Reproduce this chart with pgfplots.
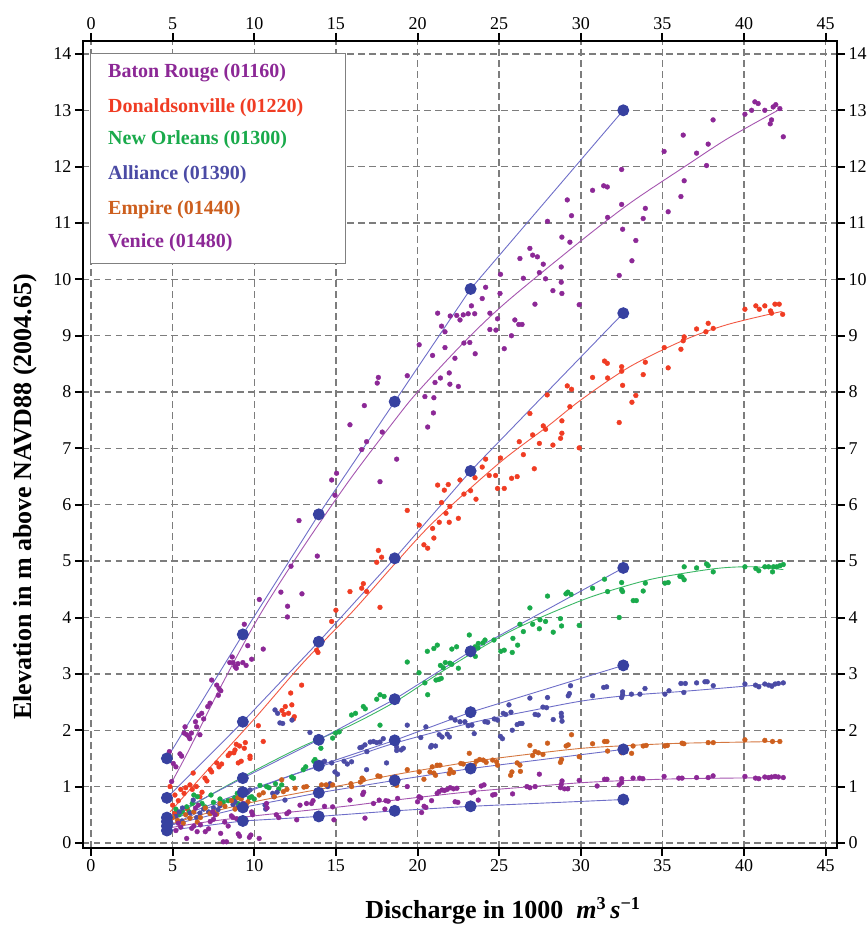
\documentclass[border=0pt]{standalone}
\usepackage{fontspec}
\setmainfont{Liberation Serif}
\usepackage{pgfplots}
\pgfplotsset{compat=1.18}

\definecolor{brc}{RGB}{140,40,150}
\definecolor{brfit}{RGB}{165,85,175}
\definecolor{doc}{RGB}{240,60,35}
\definecolor{nocol}{RGB}{25,170,75}
\definecolor{alc}{RGB}{75,75,165}
\definecolor{emc}{RGB}{205,95,30}
\definecolor{mdldot}{RGB}{55,65,160}
\definecolor{mdlline}{RGB}{110,110,200}
\definecolor{gridc}{RGB}{125,125,125}

\pgfplotsset{
  sc/.style={only marks, color=#1, mark=*, mark size=2.4pt, mark options={solid, draw=none, fill=#1}},
  fit/.style={smooth, no markers, line width=0.9pt, color=#1},
  mdl/.style={color=mdlline, line width=0.9pt, mark=*, mark size=5.5pt,
    mark options={draw=mdldot, fill=mdldot}},
  lims/.style={scale only axis, width=754pt, height=807pt,
    xmin=-0.49, xmax=45.69, ymin=-0.09, ymax=14.23,
    xtick={0,5,...,45}, ytick={0,1,...,14},
    tick align=outside, major tick length=8pt,
    /pgf/number format/assume math mode=true,
    tick label style={font=\fontsize{18}{21}\selectfont}},
}

\begin{document}
\begin{tikzpicture}
\begin{axis}[
  name=main, lims,
  tick pos=both,
  every tick/.style={black, line width=2pt},
  axis line style={line width=2.5pt},
  grid=major,
  major grid style={gridc, line width=1.4pt, dash pattern=on 6.5pt off 4.5pt},
  every axis x label/.style={at={(rel axis cs:0.557,0)}, anchor=north, yshift=-49pt,
    inner sep=0pt, font=\fontsize{26}{30}\selectfont\bfseries},
  every axis y label/.style={at={(rel axis cs:0,0.435)}, rotate=90, anchor=south,
    yshift=46pt, inner sep=0pt, font=\fontsize{26}{30}\selectfont\bfseries},
  xlabel={Discharge in 1000\ \ \textit{m}\textsuperscript{3}\,\textit{s}\textsuperscript{−1}},
  ylabel={Elevation in m above NAVD88 (2004.65)},
]

% Baton Rouge (01160)
\addplot[sc=brc] coordinates {
(4.8,1.62)(4.94,1.09)(5.04,1.41)(5.2,1.35)(5.55,1.54)(5.45,1.58)(5.86,1.92)(5.7,1.95)(5.76,2.06)(6.0,1.88)
(6.15,1.95)(6.05,1.85)(6.47,2.06)(6.4,2.15)(6.67,1.92)(6.78,2.3)(6.6,2.26)(6.9,2.2)(7.29,2.48)(7.15,2.42)
(7.39,2.89)(7.84,2.74)(7.7,2.8)(7.95,2.7)(7.8,2.62)(8.82,3.13)(8.5,3.2)(8.65,3.3)(8.7,3.2)(8.9,3.1)
(9.0,3.18)(9.3,3.2)(9.5,3.15)(9.84,3.26)(9.6,3.5)(9.39,3.88)(10.55,3.44)(10.31,4.32)(11.63,4.45)(12.04,4.2)
(12.03,4.01)(12.25,4.91)(12.92,4.42)(12.74,5.72)(13.86,5.09)(14.74,6.44)(15.04,6.56)(14.94,6.17)(15.86,7.42)(16.58,6.98)
(16.74,7.76)(16.88,7.12)(17.6,8.26)(17.53,8.16)(17.84,7.29)(17.7,6.41)(18.72,6.81)(19.37,8.29)(20.1,8.84)(20.45,7.92)
(20.62,7.38)(20.97,7.63)(21.0,7.9)(20.92,8.65)(21.07,8.17)(21.4,8.25)(21.68,8.79)(21.94,8.34)(21.98,8.14)(22.5,8.1)
(22.29,8.6)(22.84,8.87)(23.2,8.88)(23.53,8.68)(21.23,9.4)(21.47,9.17)(21.68,9.07)(22.0,9.35)(22.4,9.36)(22.6,9.28)
(22.8,9.37)(23.1,9.39)(23.3,9.53)(23.5,9.39)(23.96,9.66)(24.17,9.86)(24.43,9.4)(24.43,9.11)(24.8,9.1)(24.9,9.3)
(25.05,9.75)(25.08,10.09)(25.31,8.77)(25.75,9.0)(25.96,9.28)(26.2,9.2)(26.4,9.2)(26.27,10.37)(26.48,10.02)(26.88,10.55)
(27.05,10.43)(27.34,10.4)(27.46,10.12)(27.7,10.27)(27.84,10.01)(27.19,9.56)(27.96,11.03)(28.29,9.8)(28.8,10.22)(28.8,9.95)
(28.84,9.75)(28.84,10.75)(29.17,11.41)(29.33,10.66)(29.43,11.13)(29.9,9.55)(30.72,11.58)(31.4,11.66)(31.62,11.64)(31.64,11.1)
(32.35,10.07)(32.5,11.95)(32.5,11.33)(32.56,10.89)(33.13,10.33)(33.37,10.69)(33.82,11.08)(33.95,11.26)(35.1,12.27)(35.35,11.2)
(36.13,11.47)(36.27,12.56)(36.33,11.75)(37.09,12.24)(37.7,12.02)(37.8,12.4)(38.1,12.83)(40.05,12.93)(40.46,13.0)(40.66,13.15)
(40.86,13.12)(41.27,13.0)(41.6,12.76)(41.68,12.83)(41.78,13.06)(41.94,13.1)(42.19,13.03)(42.4,12.53)
};
% Donaldsonville (01220)
\addplot[sc=doc] coordinates {
(4.84,1.0)(5.0,0.67)(5.14,0.85)(5.14,0.53)(5.35,0.75)(5.5,0.95)(5.7,0.88)(5.9,0.6)(5.8,0.98)(6.06,1.03)
(6.2,0.95)(6.26,1.24)(6.45,1.0)(6.67,0.82)(6.8,0.9)(6.98,1.15)(7.1,1.1)(7.39,1.26)(7.3,1.3)(7.84,1.35)
(7.7,1.42)(8.0,1.4)(8.51,1.59)(8.4,1.55)(8.82,1.65)(8.75,1.6)(9.02,1.42)(9.2,1.45)(9.1,1.72)(8.9,1.75)
(9.39,1.68)(9.45,1.78)(9.74,1.54)(9.74,1.5)(10.25,2.08)(10.55,1.8)(11.82,2.28)(11.7,2.35)(12.45,2.24)(12.4,2.2)
(12.23,2.66)(12.9,2.8)(13.82,3.42)(13.9,3.38)(14.74,3.93)(15.0,4.13)(15.86,4.46)(16.58,4.52)(16.68,4.6)(16.88,4.46)
(17.7,4.18)(17.5,4.98)(17.6,5.19)(17.8,5.07)(19.37,5.9)(20.1,5.64)(20.39,5.29)(20.62,5.23)(20.92,5.58)(21.0,5.41)
(21.23,6.35)(21.33,5.69)(21.47,6.04)(21.64,6.26)(21.74,5.85)(21.88,6.36)(21.94,5.69)(21.98,5.97)(22.5,5.76)(22.6,6.44)
(22.84,6.19)(23.25,6.25)(23.52,6.48)(23.58,6.1)(23.96,6.67)(24.17,6.81)(24.39,6.52)(24.78,6.52)(24.9,6.29)(25.08,6.83)
(25.31,6.29)(25.76,6.47)(26.1,6.5)(26.23,7.12)(26.48,6.89)(26.88,7.62)(27.05,7.24)(27.15,6.64)(27.46,7.09)(27.7,7.4)
(27.84,7.34)(27.94,7.95)(28.29,7.06)(28.76,7.18)(28.84,7.27)(28.84,7.49)(29.17,8.11)(29.33,7.74)(29.43,8.05)(29.9,7.01)
(30.72,8.26)(31.62,8.51)(31.45,8.55)(31.64,8.25)(32.35,7.46)(32.5,8.45)(32.5,8.37)(32.56,8.12)(33.13,7.82)(33.37,7.94)
(33.82,8.31)(33.95,8.53)(35.11,8.79)(35.35,8.43)(36.13,8.76)(36.27,8.91)(36.33,8.98)(37.09,9.12)(37.66,9.07)(37.8,9.22)
(38.11,9.13)(40.05,9.47)(40.72,9.53)(40.93,9.47)(41.27,9.53)(41.62,9.44)(41.68,9.4)(41.89,9.56)(42.15,9.56)(42.36,9.38)
(11.9,2.42)(12.1,2.3)(12.3,2.45)
};
% New Orleans (01300)
\addplot[sc=nocol] coordinates {
(5.2,0.6)(5.4,0.5)(5.6,0.55)(5.86,0.64)(6.02,0.55)(6.2,0.7)(6.51,0.82)(6.3,0.85)(6.98,0.64)(6.8,0.7)
(7.35,0.85)(7.5,0.72)(7.9,0.78)(8.1,0.72)(8.4,0.75)(8.96,0.88)(8.8,0.8)(9.0,0.7)(9.84,0.82)(9.7,0.8)
(10.0,0.78)(10.35,1.02)(10.76,1.0)(10.9,0.98)(11.3,1.05)(11.68,1.03)(11.5,0.96)(12.29,1.17)(12.4,1.15)(13.0,1.3)
(13.15,1.35)(13.72,1.48)(13.65,1.45)(13.86,1.35)(14.08,1.68)(14.8,1.86)(14.98,1.95)(15.2,1.97)(15.96,2.27)(16.2,2.3)
(16.68,2.42)(16.8,2.38)(17.7,2.63)(17.5,2.55)(17.95,2.6)(17.7,2.09)(19.37,3.21)(20.09,3.02)(20.45,2.84)(20.62,2.63)
(21.13,2.89)(21.3,2.9)(21.45,2.92)(21.21,3.51)(21.0,3.45)(20.6,3.4)(21.57,3.11)(21.4,3.15)(21.98,3.19)(21.7,3.2)
(22.1,3.17)(22.5,3.1)(22.39,3.48)(22.1,3.44)(23.17,3.69)(23.52,3.48)(23.7,3.46)(23.54,3.31)(23.72,3.54)(24.13,3.6)
(24.0,3.55)(24.68,3.6)(25.31,3.42)(25.1,3.4)(25.8,3.38)(25.84,3.63)(26.13,3.51)(26.27,3.88)(26.48,3.75)(26.88,4.17)
(27.05,3.88)(27.46,3.8)(27.84,3.93)(27.5,3.96)(27.96,4.38)(28.31,3.74)(28.82,3.85)(28.75,3.98)(29.09,4.42)(29.2,4.45)
(29.4,4.41)(29.9,3.86)(30.72,4.52)(31.45,4.68)(31.64,4.46)(32.35,4.0)(32.5,4.49)(32.56,4.46)(32.5,4.62)(33.21,4.3)
(33.4,4.3)(33.82,4.47)(33.95,4.61)(35.15,4.61)(35.35,4.62)(36.07,4.73)(36.2,4.72)(36.33,4.67)(36.33,4.9)(37.09,4.88)
(37.8,4.92)(37.7,4.95)(38.11,4.81)(40.05,4.9)(40.72,4.87)(40.9,4.83)(41.27,4.9)(41.5,4.9)(41.74,4.81)(41.8,4.9)
(42.0,4.9)(42.2,4.92)(42.4,4.94)
};
% Alliance (01390)
\addplot[sc=alc] coordinates {
(4.9,0.35)(5.2,0.47)(5.57,0.39)(5.6,0.62)(5.4,0.55)(6.06,0.53)(6.26,0.76)(6.47,0.45)(6.67,0.53)(6.9,0.6)
(7.2,0.55)(7.5,0.62)(7.78,0.59)(7.9,0.66)(8.82,0.73)(8.7,0.68)(9.0,0.63)(9.43,0.59)(9.74,0.94)(9.6,0.9)
(10.66,0.67)(10.7,0.6)(11.13,0.88)(11.2,0.82)(11.88,0.76)(11.4,0.9)(11.27,2.36)(11.43,2.3)(11.57,2.13)(11.74,2.12)
(12.31,2.18)(13.41,1.96)(14.15,1.42)(14.3,1.45)(14.74,1.42)(14.94,1.26)(15.1,1.22)(14.64,1.05)(14.5,1.0)(15.96,1.44)
(15.7,1.4)(15.5,1.45)(16.47,1.69)(16.6,1.7)(16.78,1.74)(16.9,1.62)(16.88,1.3)(17.1,1.79)(17.3,1.8)(17.5,1.78)
(17.7,1.79)(17.9,1.85)(18.1,1.42)(18.72,1.64)(18.72,1.7)(19.13,1.68)(19.0,1.65)(19.37,2.09)(20.2,1.87)(20.51,2.06)
(20.86,1.73)(20.8,1.7)(21.1,1.72)(21.33,1.92)(21.5,1.88)(21.82,1.93)(21.95,1.88)(22.05,2.22)(22.3,2.18)(22.6,2.15)
(22.9,2.15)(23.1,2.08)(23.33,2.09)(23.47,1.94)(24.13,2.15)(24.3,2.14)(24.7,2.2)(24.9,2.18)(25.08,1.89)(25.2,1.85)
(25.25,2.3)(25.4,2.28)(25.72,2.32)(25.6,2.45)(25.8,2.0)(26.27,2.12)(26.1,2.1)(26.4,2.12)(26.88,2.57)(27.39,2.27)
(27.2,2.28)(27.68,2.41)(27.9,2.4)(27.96,2.58)(28.31,2.19)(28.82,2.24)(28.8,2.3)(28.85,2.16)(29.23,2.61)(29.37,2.79)
(29.3,2.65)(30.72,2.61)(31.58,2.77)(31.4,2.76)(32.56,2.63)(32.5,2.58)(32.56,2.68)(33.62,2.64)(33.1,2.64)(33.93,2.74)
(35.15,2.64)(35.4,2.7)(36.13,2.83)(36.31,2.67)(36.4,2.83)(37.09,2.84)(37.74,2.86)(37.6,2.86)(38.11,2.79)(40.05,2.82)
(40.7,2.8)(40.9,2.77)(41.27,2.82)(41.5,2.8)(41.7,2.78)(41.9,2.82)(42.1,2.83)(42.4,2.84)
};
% Empire (01440)
\addplot[sc=emc] coordinates {
(5.0,0.45)(5.3,0.4)(5.65,0.35)(5.8,0.5)(6.06,0.44)(6.3,0.55)(6.51,0.37)(6.7,0.45)(7.0,0.62)(7.29,0.52)
(7.5,0.55)(7.7,0.51)(7.9,0.7)(8.2,0.65)(8.82,0.6)(8.6,0.75)(9.0,0.8)(9.2,0.78)(9.61,0.73)(9.5,0.68)
(10.55,0.89)(10.3,0.85)(11.23,0.82)(11.68,1.12)(11.78,0.91)(12.0,0.95)(12.5,0.97)(13.04,0.99)(13.2,1.0)(14.12,1.03)
(14.4,1.03)(14.8,1.03)(15.92,1.05)(15.96,1.0)(16.68,1.12)(16.6,1.15)(16.5,1.08)(17.57,1.19)(17.7,1.18)(18.72,1.08)
(18.72,1.02)(19.37,1.3)(20.1,1.26)(20.39,1.13)(20.76,1.26)(21.0,1.24)(21.1,1.2)(20.9,1.35)(21.37,1.38)(21.2,1.38)
(21.94,1.23)(22.0,1.3)(22.2,1.25)(22.8,1.4)(22.65,1.41)(23.17,1.59)(23.47,1.38)(23.4,1.35)(24.02,1.47)(23.8,1.48)
(24.2,1.43)(23.6,1.45)(24.84,1.44)(24.6,1.47)(24.9,1.38)(25.78,1.26)(25.7,1.2)(26.27,1.38)(26.1,1.42)(26.3,1.27)
(26.88,1.73)(27.2,1.62)(27.05,1.55)(27.68,1.57)(27.4,1.6)(27.96,1.77)(28.82,1.48)(28.75,1.43)(29.23,1.74)(29.1,1.72)
(29.43,1.92)(29.9,1.53)(30.72,1.76)(31.45,1.8)(31.6,1.8)(31.64,1.63)(32.56,1.64)(32.5,1.6)(33.11,1.59)(33.2,1.72)
(33.82,1.72)(34.0,1.73)(35.15,1.72)(35.3,1.73)(36.31,1.76)(36.2,1.77)(37.8,1.78)(38.11,1.78)(40.05,1.83)(41.27,1.82)
(41.74,1.8)(42.19,1.8)
};
% Venice (01480)
\addplot[sc=brc] coordinates {
(5.2,0.22)(5.35,0.35)(5.5,0.28)(5.86,0.08)(6.17,0.26)(6.3,0.3)(6.57,0.67)(6.4,0.62)(6.5,0.2)(6.7,0.32)
(7.0,0.2)(7.2,0.25)(7.3,0.38)(7.5,0.42)(7.45,0.55)(7.6,0.5)(7.94,0.17)(8.1,0.02)(8.19,0.37)(8.3,0.02)
(8.4,0.3)(8.6,0.48)(8.7,0.45)(8.92,0.43)(9.02,0.16)(9.1,0.12)(9.33,0.7)(9.3,0.62)(9.79,0.14)(9.7,0.1)
(9.84,0.55)(9.9,0.5)(10.3,0.08)(10.78,0.62)(10.75,0.7)(11.35,0.5)(11.5,0.45)(12.12,0.55)(12.0,0.52)(12.6,0.41)
(12.8,0.67)(13.2,0.7)(13.51,0.7)(13.6,0.75)(14.3,0.65)(14.8,0.64)(14.88,0.41)(15.86,0.76)(16.64,0.86)(16.7,0.9)
(16.78,0.44)(17.65,0.76)(17.3,0.7)(18.0,0.6)(18.06,0.75)(18.2,0.74)(18.78,0.79)(19.37,1.0)(20.0,0.73)(20.09,0.82)
(20.2,0.8)(20.25,0.54)(20.51,0.63)(20.4,0.65)(20.86,0.75)(21.31,0.91)(21.2,0.88)(21.82,0.95)(21.65,0.93)(21.5,0.94)
(22.41,0.97)(22.2,0.96)(22.0,0.98)(22.47,0.72)(22.3,0.73)(23.45,0.91)(23.3,0.89)(23.72,0.76)(24.07,1.03)(23.9,1.01)
(24.74,0.86)(24.6,0.85)(25.82,0.87)(26.88,0.98)(26.7,1.0)(27.2,1.0)(27.46,1.22)(28.8,1.04)(28.75,0.98)(28.85,1.1)
(29.0,0.96)(29.2,0.96)(29.9,1.11)(31.0,1.01)(31.6,1.13)(31.45,1.13)(32.35,1.03)(32.5,1.14)(32.5,1.07)(33.2,1.15)
(33.6,1.15)(33.8,1.14)(35.1,1.18)(36.0,1.15)(36.2,1.15)(37.09,1.16)(37.8,1.16)(38.1,1.19)(40.05,1.18)(40.7,1.15)
(40.9,1.14)(41.27,1.17)(41.5,1.16)(41.68,1.17)(41.9,1.18)(42.1,1.17)(42.4,1.16)
};

% fitted rating curves
\addplot[fit=brfit] coordinates {(4.8,1.0)(6,1.65)(8,2.8)(10.35,4.05)(13,5.25)(15.86,6.45)(18.6,7.5)(20,8.0)(22.9,8.9)(25.45,9.6)(29.95,10.67)(33,11.35)(36.25,11.98)(39,12.5)(42.2,13.02)};
\addplot[fit=doc!85!white] coordinates {(4.84,0.55)(7,1.25)(10,2.2)(13,3.2)(16,4.1)(18.6,4.95)(21,5.7)(25,6.74)(28,7.4)(30,7.86)(33,8.45)(36.3,8.92)(39,9.2)(42.3,9.43)};
\addplot[fit=nocol!85!white] coordinates {(4.84,0.42)(7,0.8)(10,1.28)(13,1.72)(15.86,2.08)(18.6,2.5)(21,2.95)(23.25,3.35)(26,3.8)(30.1,4.31)(33,4.58)(35,4.72)(38.3,4.87)(40.5,4.9)(42.4,4.85)};
\addplot[fit=mdlline] coordinates {(4.84,0.3)(7,0.6)(10,0.95)(13,1.27)(15.86,1.51)(18.6,1.77)(23.27,2.13)(27,2.35)(30.1,2.52)(33,2.62)(36.3,2.69)(40,2.78)(42.4,2.84)};
\addplot[fit=emc!85!white] coordinates {(4.84,0.33)(7,0.52)(10,0.73)(13,0.9)(15.86,1.05)(18.6,1.21)(23.27,1.44)(27,1.58)(30.1,1.68)(33,1.73)(36.3,1.77)(42.2,1.8)};
\addplot[fit=brfit] coordinates {(4.84,0.27)(7,0.37)(10,0.48)(13,0.57)(15.86,0.66)(18.6,0.76)(23.27,0.91)(27,1.0)(30.1,1.07)(33,1.11)(36.3,1.14)(42.3,1.16)};

% model stages
\addplot[mdl] coordinates {(4.65,1.5)(9.3,3.7)(13.95,5.83)(18.6,7.83)(23.25,9.83)(32.6,13.0)};
\addplot[mdl] coordinates {(4.65,0.8)(9.3,2.15)(13.95,3.57)(18.6,5.05)(23.25,6.6)(32.6,9.4)};
\addplot[mdl] coordinates {(4.65,0.45)(9.3,1.15)(13.95,1.83)(18.6,2.55)(23.25,3.4)(32.6,4.88)};
\addplot[mdl] coordinates {(4.65,0.38)(9.3,0.9)(13.95,1.37)(18.6,1.82)(23.25,2.32)(32.6,3.15)};
\addplot[mdl] coordinates {(4.65,0.3)(9.3,0.63)(13.95,0.89)(18.6,1.11)(23.25,1.32)(32.6,1.66)};
\addplot[mdl] coordinates {(4.65,0.22)(9.3,0.39)(13.95,0.47)(18.6,0.57)(23.25,0.65)(32.6,0.77)};

% legend box
\draw[fill=white, draw=gray, line width=1pt] (axis cs:0,10.29) rectangle (axis cs:15.56,14.0);
\begin{scope}[every node/.style={anchor=west, inner sep=0pt, font=\fontsize{20}{24}\selectfont\bfseries}]
\node[text=brc] at (axis cs:1.04,13.66) {Baton Rouge (01160)};
\node[text=doc] at (axis cs:1.04,13.04) {Donaldsonville (01220)};
\node[text=nocol] at (axis cs:1.04,12.47) {New Orleans (01300)};
\node[text=alc] at (axis cs:1.04,11.85) {Alliance (01390)};
\node[text=emc] at (axis cs:1.04,11.23) {Empire (01440)};
\node[text=brc] at (axis cs:1.04,10.65) {Venice (01480)};
\end{scope}
\end{axis}

% tick labels on the top and right sides
\begin{axis}[
  lims,
  xticklabel pos=upper, yticklabel pos=right,
  axis line style={draw=none},
  tick style={draw=none},
]
\end{axis}

\pgfresetboundingbox
\path (main.south west) ++(-83pt,-83pt) rectangle ([shift={(30pt,41pt)}]main.north east);
\end{tikzpicture}
\end{document}
